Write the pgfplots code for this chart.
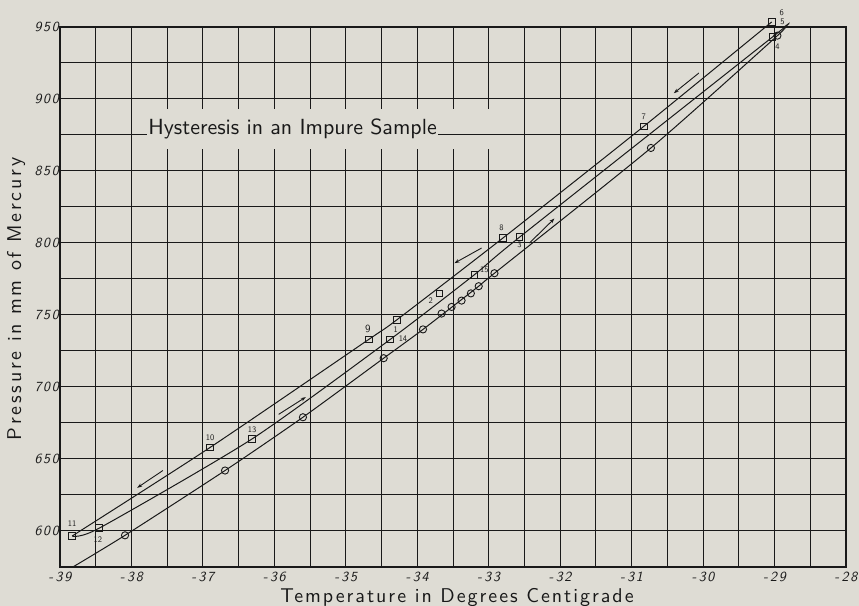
\documentclass[border=0pt]{standalone}
\usepackage{fontspec}
\setsansfont{lmsans10-regular.otf}[ItalicFont=lmsans10-oblique.otf, BoldFont=lmsans10-bold.otf]
\usepackage{pgfplots}
\pgfplotsset{compat=1.18}
\usetikzlibrary{arrows.meta,backgrounds}
\definecolor{bg}{RGB}{222,220,212}
\definecolor{ink}{RGB}{25,25,25}
\newcommand{\tickfont}{\sffamily\itshape\fontsize{14}{14}\selectfont\addfontfeature{LetterSpace=12}}
\begin{document}
\begin{tikzpicture}[font=\sffamily, show background rectangle, inner frame sep=0pt,
  background rectangle/.style={fill=bg, draw=none}]
\useasboundingbox (-60bp,-39bp) rectangle (799bp,567bp);
\begin{axis}[
  at={(0,0)}, anchor=south west,
  scale only axis, width=786bp, height=540bp,
  xmin=-39, xmax=-28, ymin=575, ymax=950,
  xtick={-39,...,-28}, minor xtick={-38.5,-37.5,...,-28.5},
  ytick={600,650,...,950}, minor ytick={625,675,...,925},
  xticklabels={{-\,39},{-\,38},{-\,37},{-\,36},{-\,35},{-\,34},{-\,33},{-\,32},{-\,31},{-\,30},{-\,29},{-\,28}},
  yticklabels={600,650,700,750,800,850,900,950},
  grid=both,
  grid style={ink, line width=1bp},
  minor grid style={ink, line width=1bp},
  major grid style={ink, line width=1bp},
  axis line style={ink, line width=1.3bp},
  major tick length=0pt, minor tick length=0pt,
  xticklabel style={font=\tickfont, text=ink, anchor=north, inner sep=0pt, yshift=-5bp},
  yticklabel style={font=\tickfont, text=ink, anchor=east, inner sep=0pt, xshift=-1bp},
  clip=false,
  axis background/.style={fill=bg},
]
% title blank area
\fill[bg] (axis cs:-37.86,865) rectangle (axis cs:-32.56,893);
\draw[ink, line width=1bp] (axis cs:-37.9,875) -- (axis cs:-32.5,875);
\node[anchor=base west, fill=bg, inner xsep=1bp, inner ysep=2bp, text=ink,
  font=\sffamily\fontsize{22}{22}\selectfont] at (axis cs:-37.78,875) {Hysteresis in an Impure Sample};

% top curve (cooling)
\addplot[ink, line width=1bp, smooth, tension=0.4] coordinates {
 (-38.83,596.5) (-36.9,658) (-34.68,733) (-34.29,746.5) (-32.8,803.5) (-30.83,881) (-29.04,953.5)};
% middle curve
\addplot[ink, line width=1bp, smooth, tension=0.4] coordinates {
 (-38.83,596.5) (-38.45,602) (-36.31,664) (-34.38,733) (-33.2,778) (-32.57,804) (-29.03,943) (-28.88,949.5)};
% bottom curve
\addplot[ink, line width=1bp, smooth, tension=0.4] coordinates {
 (-38.82,575) (-38.09,597) (-36.69,642) (-35.6,679) (-34.47,720) (-33.92,740) (-33.14,770) (-32.92,779) (-30.73,866) (-28.96,944) (-28.88,949.5)};

% squares
\addplot[only marks, mark=square, mark size=3.4bp, mark options={ink, line width=0.9bp}] coordinates {
 (-38.83,596.5) (-38.45,602) (-36.9,658) (-36.31,664) (-34.68,733) (-34.38,733) (-34.29,746.5)
 (-33.69,765) (-33.2,778) (-32.8,803.5) (-32.57,804) (-30.83,881) (-29.04,953.5) (-29.03,943)};
% circles
\addplot[only marks, mark=o, mark size=3.6bp, mark options={ink, line width=0.9bp}] coordinates {
 (-38.09,597) (-36.69,642) (-35.6,679) (-34.47,720) (-33.92,740) (-33.66,751) (-33.52,755.6)
 (-33.38,760) (-33.25,765) (-33.14,770) (-32.92,779) (-30.73,866) (-28.96,944)};

% point numbers
\begin{scope}[every node/.style={font=\sffamily\fontsize{8.5}{8.5}\selectfont, text=ink, inner sep=0pt}]
\node at (axis cs:-38.83,605) {11};
\node at (axis cs:-38.47,593.7) {12};
\node at (axis cs:-36.90,665) {10};
\node at (axis cs:-36.31,670.5) {13};
\node[font=\sffamily\fontsize{11}{11}\selectfont] at (axis cs:-34.69,740.5) {9};
\node at (axis cs:-34.20,733.3) {14};
\node at (axis cs:-34.30,739.6) {1};
\node at (axis cs:-33.81,760) {2};
\node at (axis cs:-33.06,781.5) {15};
\node at (axis cs:-32.82,810.5) {8};
\node at (axis cs:-32.57,798.6) {3};
\node at (axis cs:-30.83,887.5) {7};
\node at (axis cs:-28.90,959.7) {6};
\node at (axis cs:-28.89,953.3) {5};
\node at (axis cs:-28.96,936) {4};
\end{scope}

% arrows
\begin{scope}[ink, line width=0.9bp, -{Stealth[length=5bp,width=3.5bp]}]
\draw (axis cs:-30.06,918) -- (axis cs:-30.41,904);
\draw (axis cs:-37.56,642) -- (axis cs:-37.92,630);
\draw (axis cs:-35.94,681) -- (axis cs:-35.56,693);
\draw (axis cs:-32.43,800) -- (axis cs:-32.08,817);
\draw (axis cs:-33.10,796.5) -- (axis cs:-33.48,786);
\end{scope}
\end{axis}
\node[rotate=90, anchor=base, inner sep=0pt, text=ink, font=\sffamily\fontsize{20}{20}\selectfont\addfontfeature{LetterSpace=14}] at (-39bp,268bp) {Pressure in mm of Mercury};
\node[anchor=base, inner sep=0pt, text=ink, font=\sffamily\fontsize{20}{20}\selectfont\addfontfeature{LetterSpace=10}] at (397bp,-35bp) {Temperature in Degrees Centigrade};
\end{tikzpicture}
\end{document}
